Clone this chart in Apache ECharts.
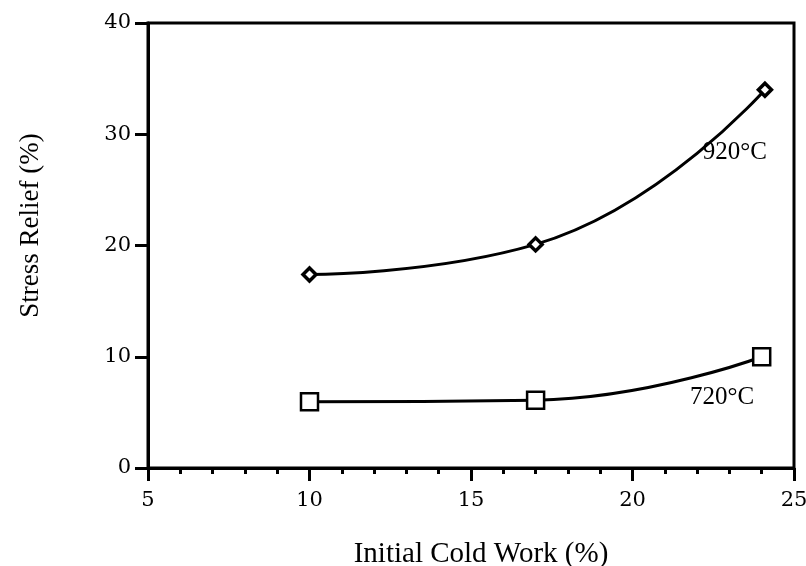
<!DOCTYPE html>
<html>
<head>
<meta charset="utf-8">
<script src="https://cdn.jsdelivr.net/npm/echarts@6/dist/echarts.min.js"></script>
<style>
  html, body { margin: 0; padding: 0; background: #fff; }
  #chart { width: 806px; height: 566px; }
</style>
</head>
<body>
<div id="chart"></div>
<script>
// Initial cold work (%) at which each anneal was measured
const coldWork920 = [10, 17, 24.1];
const coldWork720 = [10, 17, 24];
// Stress relief (%) after annealing
const relief920 = [17.4, 20.1, 34.0];
const relief720 = [5.95, 6.1, 10.0];
// Curve annotations: [x, y, text]
const note920 = [23.17, 28.4, '920°C'];
const note720 = [22.77, 6.35, '720°C'];

const serif = '"Liberation Serif", "Times New Roman", serif';
const tickFont = '"DejaVu Serif", serif';

function pairs(xs, ys) {
  return xs.map((x, i) => [x, ys[i]]);
}

// Text placed at a data coordinate, with an invisible anchor symbol
function note(n) {
  return {
    symbol: 'circle',
    symbolSize: 1,
    silent: true,
    itemStyle: { color: 'rgba(0,0,0,0)', borderWidth: 0 },
    label: {
      show: true,
      position: 'inside',
      formatter: n[2],
      fontFamily: serif,
      fontSize: 25,
      color: '#000'
    },
    data: [{ coord: [n[0], n[1]] }]
  };
}

const chart = echarts.init(document.getElementById('chart'), null, { renderer: 'canvas' });

chart.setOption({
  animation: false,
  backgroundColor: '#fff',
  grid: {
    left: 148, right: 12, top: 23, bottom: 98,
    outerBoundsMode: 'none',
    containLabel: false,
    show: true, borderColor: '#000', borderWidth: 3
  },
  xAxis: {
    type: 'value',
    min: 5, max: 25, interval: 5,
    name: 'Initial Cold Work (%)',
    nameLocation: 'middle',
    nameGap: 72,
    nameTextStyle: { fontFamily: serif, fontSize: 29, color: '#000', padding: [0, 0, 0, 20] },
    axisLine: { lineStyle: { color: '#000', width: 3 } },
    axisTick: { show: true, inside: false, length: 13, lineStyle: { color: '#000', width: 3 } },
    minorTick: { show: true, splitNumber: 5, length: 6, lineStyle: { color: '#000', width: 3 } },
    splitLine: { show: false },
    axisLabel: { fontFamily: tickFont, fontSize: 21, color: '#000', margin: 22 }
  },
  yAxis: {
    type: 'value',
    min: 0, max: 40, interval: 10,
    name: 'Stress Relief (%)',
    nameLocation: 'middle',
    nameGap: 104,
    nameRotate: 90,
    nameTextStyle: { fontFamily: serif, fontSize: 27, color: '#000', padding: [0, 0, 0, 40] },
    axisLine: { lineStyle: { color: '#000', width: 3 } },
    axisTick: { show: true, inside: false, length: 13, lineStyle: { color: '#000', width: 3 } },
    splitLine: { show: false },
    axisLabel: { fontFamily: tickFont, fontSize: 21, color: '#000', margin: 17 }
  },
  series: [
    {
      name: '920°C',
      type: 'line',
      smooth: 0.5,
      data: pairs(coldWork920, relief920),
      symbol: 'diamond',
      symbolSize: 13,
      lineStyle: { color: '#000', width: 3 },
      itemStyle: { color: '#fff', borderColor: '#000', borderWidth: 3.5 },
      markPoint: note(note920)
    },
    {
      name: '720°C',
      type: 'line',
      smooth: 0.5,
      data: pairs(coldWork720, relief720),
      symbol: 'rect',
      symbolSize: 17,
      lineStyle: { color: '#000', width: 3 },
      itemStyle: { color: '#fff', borderColor: '#000', borderWidth: 2.5 },
      markPoint: note(note720)
    }
  ]
});
</script>
</body>
</html>
